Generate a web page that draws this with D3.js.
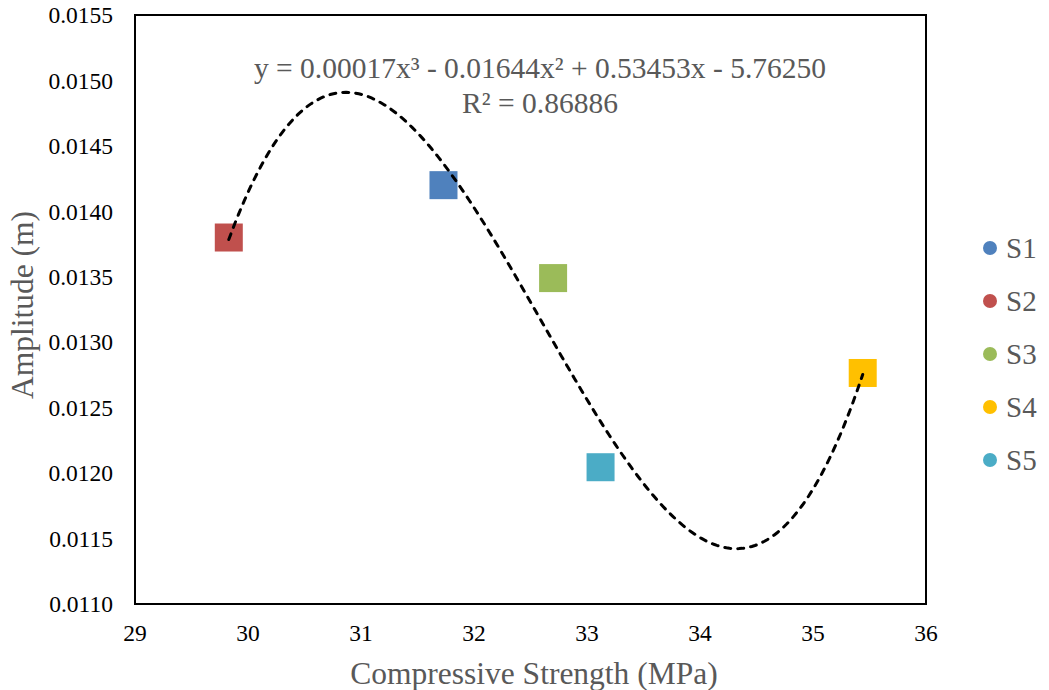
<!DOCTYPE html>
<html><head><meta charset="utf-8">
<script src="https://cdn.jsdelivr.net/npm/d3@7/dist/d3.min.js"></script>
<style>body{margin:0;background:#fff}svg{display:block}</style>
</head><body><div id="chart"></div>
<script>
const seriesNames = ["S1","S2","S3","S4","S5"];
const strength = [31.73, 29.83, 32.70, 35.44, 33.12];
const amplitude = [0.01420, 0.01380, 0.01349, 0.012765, 0.012045];
const colors = ["#4F81BD","#C0504D","#9BBB59","#FFC000","#4BACC6"];
const xTicks = [29,30,31,32,33,34,35,36];
const yTicks = [0.0110,0.0115,0.0120,0.0125,0.0130,0.0135,0.0140,0.0145,0.0150,0.0155];
const equationText = "y = 0.00017x\u00B3 - 0.01644x\u00B2 + 0.53453x - 5.76250";
const r2Text = "R\u00B2 = 0.86886";

const W = 1049, H = 690;
const m = {left:135, right:1049-926, top:15, bottom:690-604};
const svg = d3.select("#chart").append("svg").attr("width",W).attr("height",H);
const x = d3.scaleLinear().domain([29,36]).range([m.left, W-m.right]);
const y = d3.scaleLinear().domain([0.0110,0.0155]).range([H-m.bottom, m.top]);
const font = "'Liberation Serif','Times New Roman',serif";

// y tick labels
svg.append("g").selectAll("text").data(yTicks).join("text")
  .attr("x", m.left-22).attr("y", d=>y(d)).attr("dy","0.35em")
  .attr("text-anchor","end").attr("font-family",font).attr("font-size",23.5).attr("fill","#000")
  .text(d=>d.toFixed(4));
// x tick labels
svg.append("g").selectAll("text").data(xTicks).join("text")
  .attr("x", d=>x(d)).attr("y", H-m.bottom+37)
  .attr("text-anchor","middle").attr("font-family",font).attr("font-size",23.5).attr("fill","#000")
  .text(d=>d);

// plot border
svg.append("rect").attr("x",x(29)).attr("y",y(0.0155))
  .attr("width",x(36)-x(29)).attr("height",y(0.0110)-y(0.0155))
  .attr("fill","none").attr("stroke","#000").attr("stroke-width",2);

// markers
const pts = strength.map((v,i)=>({x:v,y:amplitude[i],c:colors[i]}));
const s = 28;
svg.append("g").selectAll("rect").data(pts).join("rect")
  .attr("x",d=>x(d.x)-s/2).attr("y",d=>y(d.y)-s/2).attr("width",s).attr("height",s)
  .attr("fill",d=>d.c);

// cubic least squares fit (centered)
const mx = d3.mean(strength);
function fit(xs, ys, deg){
  const n = deg+1;
  const A = Array.from({length:n},()=>new Array(n+1).fill(0));
  xs.forEach((xv,k)=>{
    const t = xv-mx;
    for(let i=0;i<n;i++){
      for(let j=0;j<n;j++) A[i][j]+=Math.pow(t,i+j);
      A[i][n]+=Math.pow(t,i)*ys[k];
    }
  });
  for(let i=0;i<n;i++){
    let p=i; for(let r=i+1;r<n;r++) if(Math.abs(A[r][i])>Math.abs(A[p][i])) p=r;
    [A[i],A[p]]=[A[p],A[i]];
    for(let r=0;r<n;r++){ if(r===i) continue; const f=A[r][i]/A[i][i];
      for(let c=i;c<=n;c++) A[r][c]-=f*A[i][c]; }
  }
  return A.map((row,i)=>row[n]/row[i]);
}
const coef = fit(strength, amplitude, 3);
const poly = xv => { const t=xv-mx; return coef.reduce((s,c,i)=>s+c*Math.pow(t,i),0); };
const xmin = d3.min(strength), xmax = d3.max(strength);
const curve = d3.range(0,201).map(i=>{ const xv = xmin+(xmax-xmin)*i/200; return [xv, poly(xv)]; });
svg.append("path").datum(curve)
  .attr("d", d3.line().x(d=>x(d[0])).y(d=>y(d[1])))
  .attr("fill","none").attr("stroke","#000").attr("stroke-width",3)
  .attr("stroke-dasharray","6,7").attr("stroke-linecap","round");

// equation
svg.append("text").attr("x",540).attr("y",78).attr("text-anchor","middle")
  .attr("font-family",font).attr("font-size",29.5).attr("fill","#595959").text(equationText);
svg.append("text").attr("x",540).attr("y",113).attr("text-anchor","middle")
  .attr("font-family",font).attr("font-size",29.5).attr("fill","#595959").text(r2Text);

// axis titles
svg.append("text").attr("x",534).attr("y",684).attr("text-anchor","middle")
  .attr("font-family",font).attr("font-size",31.5).attr("fill","#595959").text("Compressive Strength (MPa)");
svg.append("text").attr("transform","translate(33,305) rotate(-90)").attr("text-anchor","middle")
  .attr("font-family",font).attr("font-size",31.5).attr("fill","#595959").text("Amplitude (m)");

// legend
const lg = svg.append("g").selectAll("g").data(seriesNames).join("g")
  .attr("transform",(d,i)=>`translate(990,${248+i*53})`);
lg.append("circle").attr("r",7).attr("fill",(d,i)=>colors[i]);
lg.append("text").attr("x",16).attr("dy","0.35em").attr("font-family",font).attr("font-size",29)
  .attr("fill","#595959").text(d=>d);
</script></body></html>
